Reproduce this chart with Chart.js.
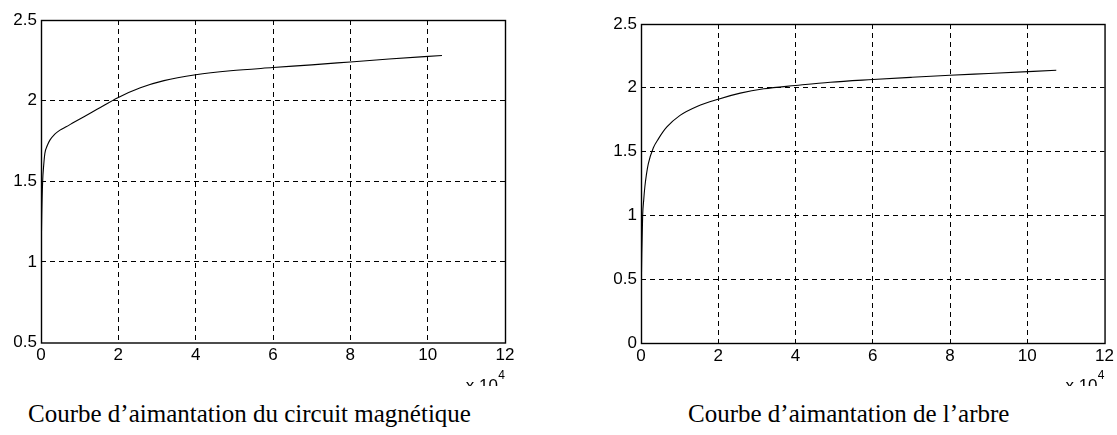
<!DOCTYPE html>
<html>
<head>
<meta charset="utf-8">
<script src="https://cdn.jsdelivr.net/npm/chart.js@4.4.1/dist/chart.umd.min.js"></script>
<style>
  body { margin: 0; background: #fff; }
  #page { position: relative; width: 1117px; height: 435px; overflow: hidden; }
  .box { position: absolute; top: 0; height: 386px; }
  .caption {
    position: absolute; top: 401px; line-height: 1;
    font-family: "Liberation Serif", "Times New Roman", serif; font-size: 25px; color: #000;
    white-space: nowrap;
  }
</style>
</head>
<body>
<div id="page">
  <div class="box" style="left:0;width:560px"><canvas id="chartLeft"></canvas></div>
  <div class="box" style="left:560px;width:557px"><canvas id="chartRight"></canvas></div>
  <div class="caption" style="left:28px">Courbe d’aimantation du circuit magnétique</div>
  <div class="caption" style="left:688px">Courbe d’aimantation de l’arbre</div>
</div>
<script>
// H en unités de 10^4, B en T
const hCircuit = [0, 0.02, 0.043, 0.07, 0.10, 0.16, 0.23, 0.35, 0.49, 0.65, 0.84, 1.1, 1.45, 2.0, 2.57, 3.18, 4.0, 4.9, 6.0, 7.0, 8.0, 9.0, 10.37];
const bCircuit = [1.0, 1.3, 1.5, 1.6, 1.673, 1.72, 1.755, 1.79, 1.817, 1.838, 1.864, 1.899, 1.946, 2.02, 2.08, 2.124, 2.16, 2.185, 2.205, 2.222, 2.24, 2.258, 2.28];

const hArbre = [0, 0.02, 0.043, 0.07, 0.10, 0.14, 0.19, 0.32, 0.45, 0.67, 1.01, 1.45, 2.0, 2.57, 3.18, 4.0, 4.9, 6.0, 7.0, 8.0, 9.0, 10.75];
const bArbre = [0.3, 0.7, 1.0, 1.12, 1.224, 1.32, 1.406, 1.53, 1.6, 1.693, 1.784, 1.854, 1.911, 1.958, 1.992, 2.018, 2.044, 2.065, 2.082, 2.098, 2.112, 2.137];

const xTicks = [0, 2, 4, 6, 8, 10, 12];
const yTicksCircuit = [0.5, 1, 1.5, 2, 2.5];
const yTicksArbre = [0, 0.5, 1, 1.5, 2, 2.5];
const xMultiplier = "x 10";
const xExponent = "4";

const tickFont = { family: "'Liberation Sans', Arial, sans-serif", size: 17 };

// pas de pointillés sur les bords, le cadre les remplace
const gridColor = (ticks) => (c) =>
  c.index === 0 || c.index === ticks.length - 1 ? "rgba(0,0,0,0)" : "#000";

// cadre complet + "x 10^4" sous l'axe
const framePlugin = {
  id: "frame",
  afterDraw(chart) {
    const { ctx, chartArea: a } = chart;
    ctx.save();
    ctx.strokeStyle = "#000";
    ctx.lineWidth = 1.4;
    ctx.strokeRect(a.left + 0.5, a.top + 0.5, a.right - a.left, a.bottom - a.top);
    ctx.fillStyle = "#000";
    ctx.font = "17px 'Liberation Sans', Arial, sans-serif";
    ctx.textBaseline = "alphabetic";
    ctx.textAlign = "right";
    ctx.fillText(xMultiplier, a.right - 7, a.bottom + 48);
    ctx.font = "12px 'Liberation Sans', Arial, sans-serif";
    ctx.fillText(xExponent, a.right, a.bottom + 36);
    ctx.restore();
  }
};

const makeChart = (id, hs, bs, yTicks, geom) => {
  const ctx = document.getElementById(id).getContext("2d");
  return new Chart(ctx, {
    type: "line",
    data: {
      datasets: [{
        data: hs.map((h, i) => ({ x: h, y: bs[i] })),
        borderColor: "#000",
        borderWidth: 1.1,
        pointRadius: 0,
        cubicInterpolationMode: "monotone",
        fill: false
      }]
    },
    options: {
      responsive: true,
      maintainAspectRatio: false,
      animation: false,
      layout: { padding: { left: 0, top: geom.top, right: geom.right, bottom: 0 } },
      plugins: { legend: { display: false }, tooltip: { enabled: false } },
      scales: {
        x: {
          type: "linear",
          min: xTicks[0],
          max: xTicks[xTicks.length - 1],
          afterBuildTicks: (axis) => { axis.ticks = xTicks.map((v) => ({ value: v })); },
          afterFit: (axis) => { axis.height = geom.xHeight; },
          ticks: { color: "#000", font: tickFont, padding: 3, maxRotation: 0 },
          grid: { color: gridColor(xTicks), lineWidth: 1, tickLength: 0, drawTicks: false },
          border: { display: false, dash: [5, 4] }
        },
        y: {
          type: "linear",
          min: yTicks[0],
          max: yTicks[yTicks.length - 1],
          afterBuildTicks: (axis) => { axis.ticks = yTicks.map((v) => ({ value: v })); },
          afterFit: (axis) => { axis.width = geom.yWidth; },
          ticks: { color: "#000", font: tickFont, padding: 4, callback: (v) => String(v) },
          grid: { color: gridColor(yTicks), lineWidth: 1, tickLength: 0, drawTicks: false },
          border: { display: false, dash: [5, 4] }
        }
      }
    },
    plugins: [framePlugin]
  });
};

makeChart("chartLeft", hCircuit, bCircuit, yTicksCircuit, { top: 20, right: 55, xHeight: 43.5, yWidth: 41 });
makeChart("chartRight", hArbre, bArbre, yTicksArbre, { top: 24, right: 12, xHeight: 43, yWidth: 81 });
</script>
</body>
</html>
